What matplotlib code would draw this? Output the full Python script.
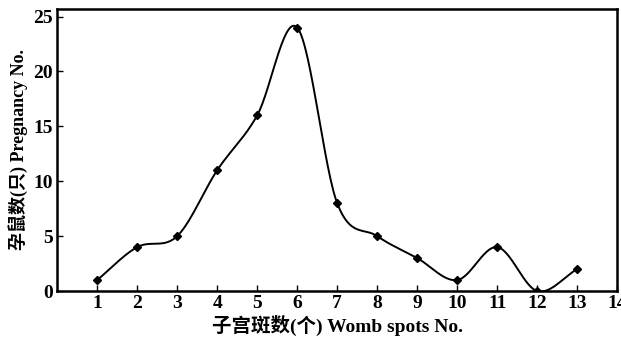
import matplotlib
matplotlib.use("Agg")
import matplotlib.pyplot as plt
import numpy as np

# data
spots = [1, 2, 3, 4, 5, 6, 7, 8, 9, 10, 11, 12, 13]
pregnant = [1, 4, 5, 11, 16, 24, 8, 5, 3, 1, 4, 0, 2]
xticks = list(range(1, 15))
yticks = [0, 5, 10, 15, 20, 25]

FONT = ["Liberation Serif", "Noto Sans CJK SC"]


def catmull_rom(xs, ys, n=30):
    """smooth curve through the points (drawing only)"""
    x = np.asarray(xs, float)
    y = np.asarray(ys, float)
    px = np.concatenate([[2 * x[0] - x[1]], x, [2 * x[-1] - x[-2]]])
    py = np.concatenate([[2 * y[0] - y[1]], y, [2 * y[-1] - y[-2]]])
    ox, oy = [], []
    t = np.linspace(0, 1, n, endpoint=False)
    for i in range(1, len(px) - 2):
        for arr, out in ((px, ox), (py, oy)):
            p0, p1, p2, p3 = arr[i - 1:i + 3]
            out.extend(0.5 * (2 * p1 + (-p0 + p2) * t
                              + (2 * p0 - 5 * p1 + 4 * p2 - p3) * t ** 2
                              + (-p0 + 3 * p1 - 3 * p2 + p3) * t ** 3))
    ox.append(x[-1]); oy.append(y[-1])
    return np.array(ox), np.array(oy)


fig = plt.figure(figsize=(6.21, 3.42), dpi=100)
ax = fig.add_axes([0.092, 0.149, 0.902, 0.825])

sx, sy = catmull_rom(spots, pregnant)
ax.plot(sx, sy, color="black", lw=1.4)
ax.plot(spots, pregnant, "D", color="black", ms=3.8)

ax.set_xlim(0, 14)
ax.set_ylim(0, 25.7)
ax.set_xticks(xticks)
ax.set_yticks(yticks)
ax.tick_params(direction="in", length=4, width=1)
ax.tick_params(axis="x", pad=3)
ax.tick_params(axis="y", pad=3)
for s in ax.spines.values():
    s.set_linewidth(1.8)

for lab in ax.get_xticklabels() + ax.get_yticklabels():
    lab.set_fontfamily(FONT)
    lab.set_fontweight("bold")
    lab.set_fontsize(14)

ax.set_xlabel("子宫斑数(个) Womb spots No.", family=FONT, fontweight="bold",
              fontsize=14, labelpad=2)
ax.set_ylabel("孕鼠数(只) Pregnancy No.", family=FONT, fontweight="bold",
              fontsize=13, labelpad=4)

fig.savefig("out.png", dpi=100, facecolor="white")
